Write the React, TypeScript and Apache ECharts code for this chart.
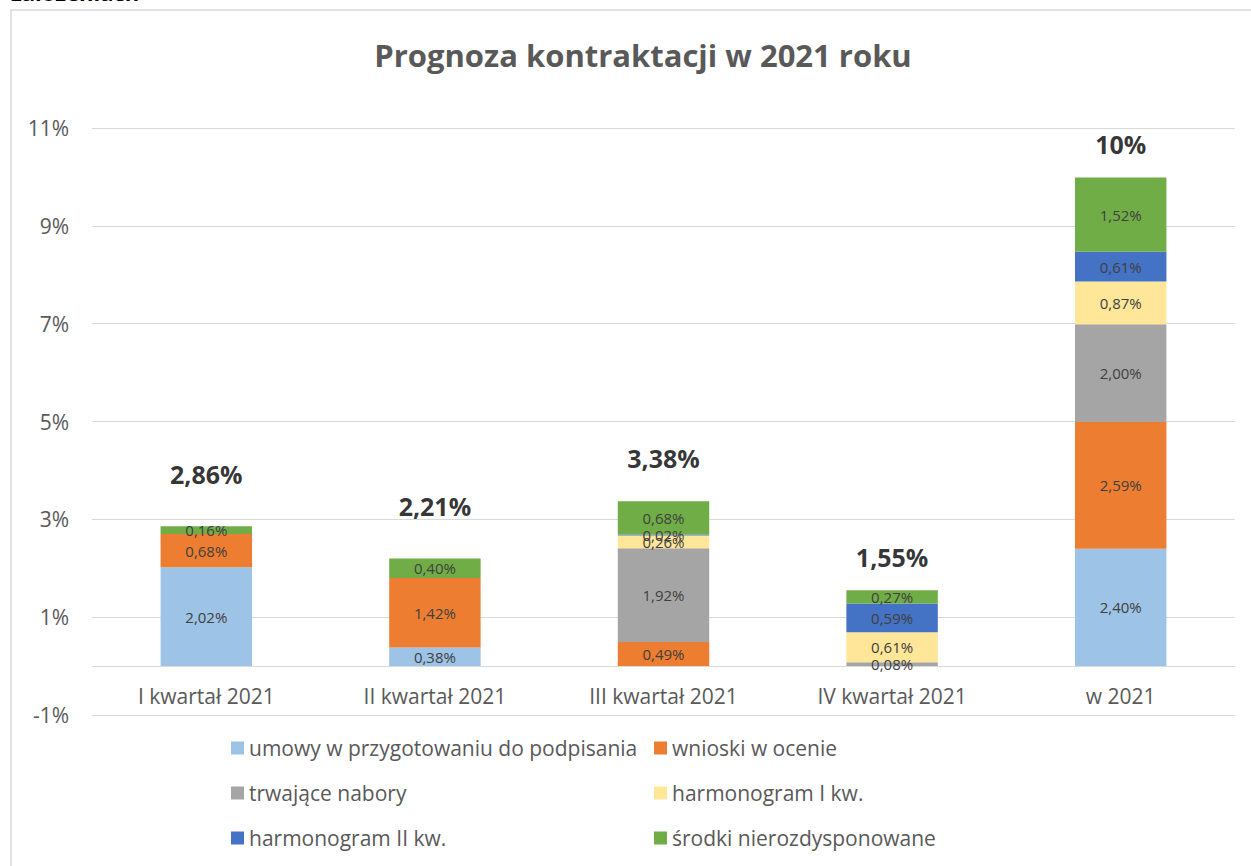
import React, { useEffect, useRef } from "react";
import * as echarts from "echarts";

const categories = ["I kwartał 2021", "II kwartał 2021", "III kwartał 2021", "IV kwartał 2021", "w 2021"];
const seriesNames = [
  "umowy w przygotowaniu do podpisania",
  "wnioski w ocenie",
  "trwające nabory",
  "harmonogram I kw.",
  "harmonogram II kw.",
  "środki nierozdysponowane",
];
const umowy = [2.02, 0.38, 0, 0, 2.4];
const wnioski = [0.68, 1.42, 0.49, 0, 2.59];
const nabory = [0, 0, 1.92, 0.08, 2.0];
const harm1 = [0, 0, 0.26, 0.61, 0.87];
const harm2 = [0, 0, 0.02, 0.59, 0.61];
const srodki = [0.16, 0.4, 0.68, 0.27, 1.52];
const totals = [2.86, 2.21, 3.38, 1.55, 10];
const yTicks = [-1, 1, 3, 5, 7, 9, 11];

const colors = ["#9dc3e6", "#ed7d31", "#a5a5a5", "#ffe699", "#4472c4", "#70ad47"];
const totalLabelLift = [40, 39, 30, 21, 20];
const FONT = "'Open Sans', Lato, sans-serif";

const fmt2 = (v: number) => v.toFixed(2).replace(".", ",") + "%";
const fmtTotal = (v: number) => (Number.isInteger(v) ? String(v) : v.toFixed(2).replace(".", ",")) + "%";
const fmtTick = (v: number) => String(v) + "%";

export default function App() {
  const ref = useRef<HTMLDivElement>(null);
  useEffect(() => {
    if (!ref.current) return;
    const chart = echarts.init(ref.current, undefined, { renderer: "svg" });
    const values = [umowy, wnioski, nabory, harm1, harm2, srodki];
    const barSeries = values.map((arr, i) => ({
      name: seriesNames[i],
      type: "bar",
      stack: "total",
      barWidth: "40%",
      itemStyle: { color: colors[i] },
      data: arr.map((v) => (v === 0 ? null : v)),
      label: {
        show: true,
        position: "inside",
        color: "#404040",
        fontSize: 15,
        fontFamily: FONT,
        formatter: (p: any) => fmt2(p.value),
      },
    }));
    const legendText = { fontFamily: FONT, fontSize: 21, color: "#595959", lineHeight: 22 };
    chart.setOption({
      animation: false,
      textStyle: { fontFamily: FONT },
      title: {
        text: "Prognoza kontraktacji w 2021 roku",
        left: 638,
        top: 34,
        textAlign: "center",
        textStyle: { fontFamily: FONT, fontSize: 31, fontWeight: "bold", color: "#595959" },
      },
      graphic: [
        {
          type: "rect",
          shape: { x: 11, y: 10, width: 1400, height: 1000 },
          style: { fill: "none", stroke: "#d9d9d9", lineWidth: 1.5 },
          silent: true,
          z: -10,
        },
        {
          type: "text",
          x: 11,
          y: -19,
          style: { text: "założeniach", fontFamily: FONT, fontSize: 22, fontWeight: "bold", fill: "#000" },
        },
      ],
      legend: [
        {
          orient: "vertical",
          left: 231,
          top: 737,
          padding: 0,
          itemWidth: 13,
          itemHeight: 13,
          itemGap: 23,
          icon: "rect",
          data: [seriesNames[0], seriesNames[2], seriesNames[4]],
          textStyle: legendText,
        },
        {
          orient: "vertical",
          left: 654,
          top: 737,
          padding: 0,
          itemWidth: 13,
          itemHeight: 13,
          itemGap: 23,
          icon: "rect",
          data: [seriesNames[1], seriesNames[3], seriesNames[5]],
          textStyle: legendText,
        },
      ],
      grid: { left: 92, right: 16, top: 128, bottom: 151, containLabel: false },
      xAxis: {
        type: "category",
        data: categories,
        offset: -49,
        axisTick: { show: false },
        axisLine: { onZero: false, lineStyle: { color: "#d9d9d9", width: 1 } },
        axisLabel: { color: "#595959", fontSize: 21, fontFamily: FONT, margin: 19 },
      },
      yAxis: {
        type: "value",
        min: yTicks[0],
        max: yTicks[yTicks.length - 1],
        interval: yTicks[1] - yTicks[0],
        axisLine: { show: false },
        axisTick: { show: false },
        splitLine: { lineStyle: { color: "#d9d9d9", width: 1 } },
        axisLabel: { color: "#595959", fontSize: 21, fontFamily: FONT, margin: 23, formatter: (v: number) => fmtTick(v) },
      },
      series: [
        ...barSeries,
        {
          name: "suma",
          type: "scatter",
          symbolSize: 0,
          silent: true,
          data: totals.map((v, i) => ({
            value: v,
            label: { distance: totalLabelLift[i] },
          })),
          label: {
            show: true,
            position: "top",
            color: "#000",
            fontSize: 25,
            fontWeight: "bold",
            fontFamily: FONT,
            formatter: (p: any) => fmtTotal(p.value),
          },
          z: 5,
        },
      ],
    });
    return () => chart.dispose();
  }, []);
  return (
    <div
      ref={ref}
      style={{ position: "absolute", left: 0, top: 0, width: 1251, height: 866, background: "#fff" }}
    />
  );
}
